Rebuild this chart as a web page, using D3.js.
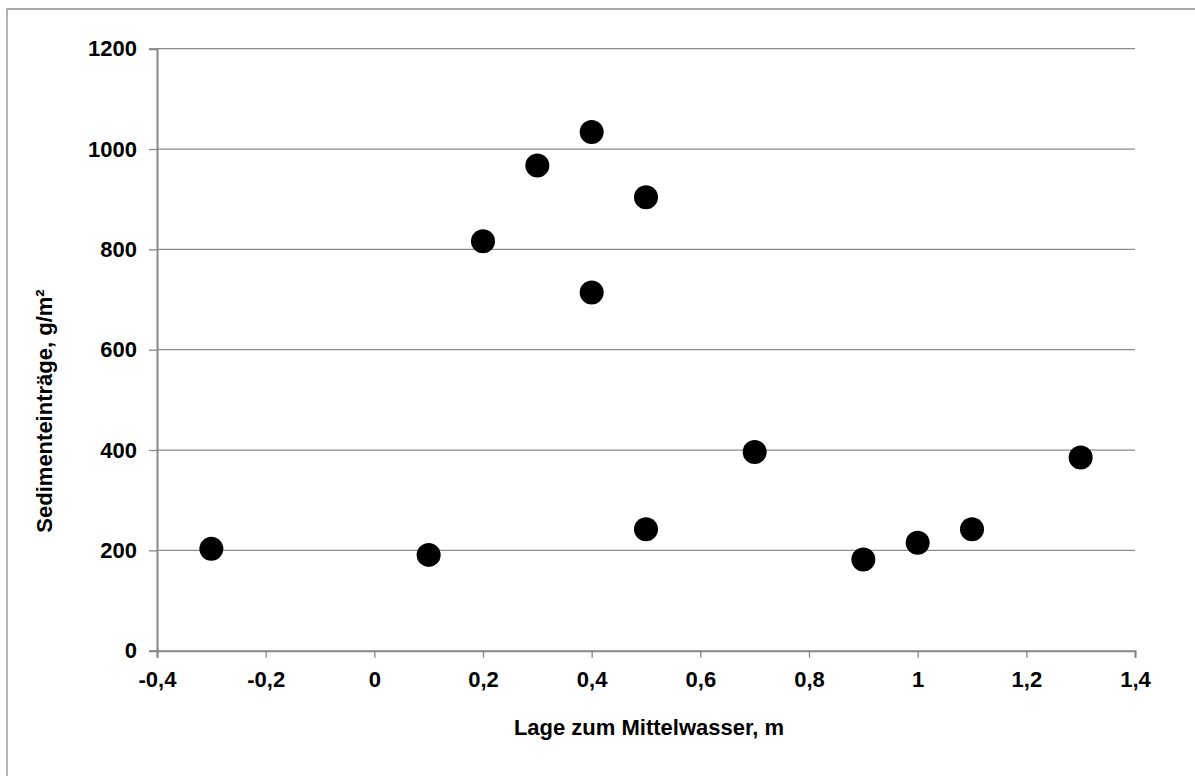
<!DOCTYPE html>
<html><head><meta charset="utf-8">
<script src="https://cdn.jsdelivr.net/npm/d3@7"></script>
<style>
html,body{margin:0;padding:0;background:#fff;}
svg{display:block;font-family:"Liberation Sans",Arial,sans-serif;font-weight:bold;}
</style></head>
<body>
<script>
const xValues = [-0.3, 0.1, 0.2, 0.3, 0.4, 0.4, 0.5, 0.5, 0.7, 0.9, 1.0, 1.1, 1.3];
const yValues = [203, 191, 816, 967, 1034, 714, 904, 242, 396, 182, 215, 242, 385];
const xTicks = [-0.4, -0.2, 0, 0.2, 0.4, 0.6, 0.8, 1, 1.2, 1.4];
const yTicks = [0, 200, 400, 600, 800, 1000, 1200];
const xTitle = "Lage zum Mittelwasser, m";
const yTitle = "Sedimenteinträge, g/m²";

(function () {
const W = 1195, H = 776;
const pL = 157, pR = 1135, pT = 48.7, pB = 650.7;
const svg = d3.select("body").append("svg").attr("width", W).attr("height", H);

// outer chart border (left and top visible)
svg.append("path").attr("d", `M7,${H+5}V9H${W+5}`).attr("fill","none").attr("stroke","#8c8c8c").attr("stroke-width",1.3);

const x = d3.scaleLinear().domain([-0.4, 1.4]).range([pL, pR]);
const y = d3.scaleLinear().domain([0, 1200]).range([pB, pT]);
const fmt = d => String(+d.toFixed(1)).replace(".", ",");

// gridlines
svg.append("g").selectAll("line").data(yTicks.filter(t => t > 0)).join("line")
  .attr("x1", pL).attr("x2", pR).attr("y1", d => y(d)).attr("y2", d => y(d))
  .attr("stroke", "#8c8c8c").attr("stroke-width", 1.3);

// y axis
const ya = svg.append("g").attr("transform", `translate(${pL},0)`)
  .call(d3.axisLeft(y).tickValues(yTicks).tickSize(8).tickPadding(12).tickFormat(d => d));
ya.select(".domain").attr("stroke", "#868686").attr("stroke-width", 2);
ya.selectAll(".tick line").attr("stroke", "#868686").attr("stroke-width", 1.3);
ya.selectAll("text").attr("font-size", 22).attr("font-family", "Liberation Sans, Arial, sans-serif").attr("font-weight","bold").attr("fill", "#000");

// x axis
const xa = svg.append("g").attr("transform", `translate(0,${pB})`)
  .call(d3.axisBottom(x).tickValues(xTicks).tickSize(7).tickPadding(14).tickFormat(fmt));
xa.select(".domain").attr("stroke", "#868686").attr("stroke-width", 2);
xa.selectAll(".tick line").attr("stroke", "#868686").attr("stroke-width", 1.3);
xa.selectAll("text").attr("font-size", 22).attr("font-family", "Liberation Sans, Arial, sans-serif").attr("font-weight","bold").attr("fill", "#000");

// points
svg.append("g").selectAll("circle").data(xValues.map((v, i) => [v, yValues[i]])).join("circle")
  .attr("cx", d => x(d[0])).attr("cy", d => y(d[1])).attr("r", 12).attr("fill", "#000");

// titles
svg.append("text").attr("x", 649).attr("y", 735).attr("text-anchor", "middle")
  .attr("font-size", 22).attr("fill", "#000").text(xTitle);
svg.append("text").attr("transform", "translate(52,411) rotate(-90)").attr("text-anchor", "middle")
  .attr("font-size", 22).attr("fill", "#000").text(yTitle);
})();
</script>
</body></html>
